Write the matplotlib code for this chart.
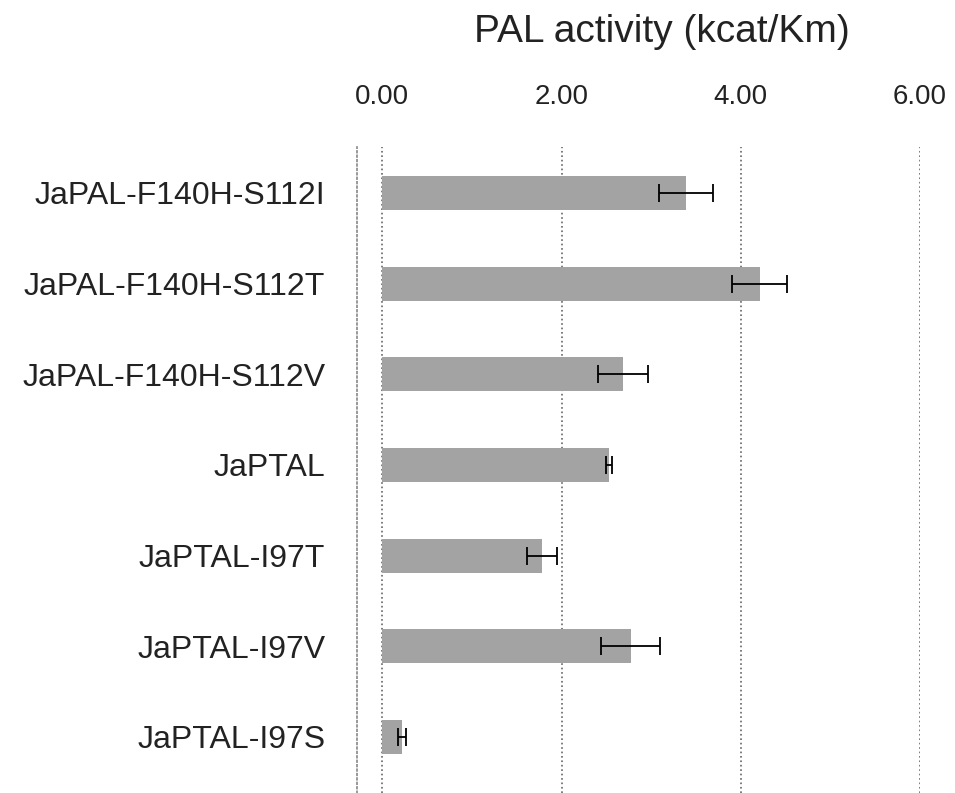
import numpy as np
import matplotlib.pyplot as plt

plt.rcParams['font.family'] = ['Liberation Sans', 'DejaVu Sans']

variants = ['JaPAL-F140H-S112I', 'JaPAL-F140H-S112T', 'JaPAL-F140H-S112V',
            'JaPTAL', 'JaPTAL-I97T', 'JaPTAL-I97V', 'JaPTAL-I97S']
activity = [3.39, 4.21, 2.69, 2.53, 1.78, 2.77, 0.22]
errors = [0.30, 0.31, 0.28, 0.03, 0.17, 0.33, 0.05]
x_ticks = [0, 2, 4, 6]

fig = plt.figure(figsize=(9.55, 7.93), dpi=100)
ax = fig.add_axes([0.374, 0.0, 0.9634 - 0.374, 0.8146])

y = np.arange(len(variants))
ax.barh(y, activity, height=0.375, color='#a3a3a3', zorder=2)
ax.errorbar(activity, y, xerr=errors, fmt='none', ecolor='black',
            elinewidth=1.3, capsize=6.5, capthick=1.3, zorder=3)

ax.set_xlim(-0.28, 6.0)
ax.set_ylim(6.62, -0.507)
ax.set_yticks(y)
ax.set_yticklabels(variants, fontsize=23, color='#222222')
ax.set_xticks(x_ticks)
ax.set_xticklabels(['%.2f' % v for v in x_ticks], fontsize=20, color='#222222')
ax.xaxis.tick_top()
ax.tick_params(axis='x', length=0, pad=27)
ax.tick_params(axis='y', length=0, pad=23)

ax.grid(axis='x', linestyle=':', color='#666666', linewidth=1.2, zorder=0)
for side in ['top', 'right', 'bottom']:
    ax.spines[side].set_visible(False)
ax.spines['left'].set_linestyle(':')
ax.spines['left'].set_color('#888888')
ax.spines['left'].set_linewidth(1.2)

fig.text(662 / 955, 1 - 32 / 793, 'PAL activity (kcat/Km)', fontsize=28,
         ha='center', va='center', color='#222222')

fig.savefig('out.png', dpi=100)
